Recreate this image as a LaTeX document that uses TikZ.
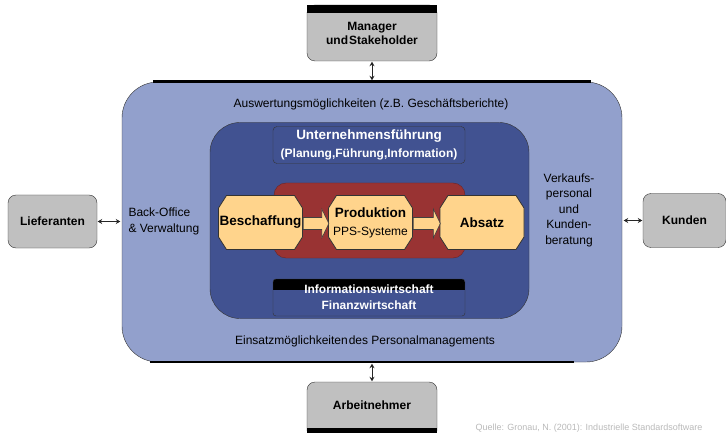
\documentclass[tikz,border=0pt]{standalone}
\usepackage{fontspec}
\setmainfont{Liberation Sans}
\usetikzlibrary{arrows.meta,calc}
\definecolor{aussenblau}{RGB}{146,160,204}
\definecolor{innenblau}{RGB}{65,82,145}
\definecolor{kernrot}{RGB}{153,51,51}
\definecolor{prozessgelb}{RGB}{255,212,140}
\definecolor{partnergrau}{RGB}{192,192,192}
\definecolor{quellgrau}{RGB}{185,185,185}
\begin{document}
\begin{tikzpicture}[x = 1pt, y = -1pt,
    partner/.style = {draw = black!80, fill = partnergrau, rounded corners = 8pt,
        align = center, font = \fontsize{12}{14}\selectfont\bfseries},
    bereich/.style = {draw = black!80, fill = innenblau, rounded corners = 4pt,
        text = white, align = center, font = \fontsize{12}{16}\selectfont\bfseries},
    prozess/.style = {minimum width = 85pt, minimum height = 55pt, inner sep = 0pt,
        align = center, font = \fontsize{13.5}{16}\selectfont\bfseries,
        path picture = {
            \filldraw [draw = black!80, fill = prozessgelb, line width = 0.8pt]
            ($(path picture bounding box.north west) + (8.5pt, -0.5pt)$)
            -- ($(path picture bounding box.north east) + (-8.5pt, -0.5pt)$)
            -- ($(path picture bounding box.north east) + (-0.5pt, -13pt)$)
            -- ($(path picture bounding box.south east) + (-0.5pt, 13pt)$)
            -- ($(path picture bounding box.south east) + (-8.5pt, 0.5pt)$)
            -- ($(path picture bounding box.south west) + (8.5pt, 0.5pt)$)
            -- ($(path picture bounding box.south west) + (0.5pt, 13pt)$)
            -- ($(path picture bounding box.north west) + (0.5pt, -13pt)$)
            -- cycle;
        }},
    fluss/.style = {draw = black!75, fill = prozessgelb, line width = 0.6pt},
    pfeil/.style = {{Stealth[length = 4.5pt, width = 5pt]}-{Stealth[length = 4.5pt, width = 5pt]},
        line width = 0.8pt, black!85, shorten <= 0.5pt, shorten >= 1.5pt},
    ]
    \useasboundingbox (0, 0) rectangle (726, 433);

    \node (aussen) [draw = black!80, fill = aussenblau, rounded corners = 36pt,
        minimum width = 500pt, minimum height = 280pt] at (372, 222) {};
    \draw [line width = 2.5pt] (153, 81.5) -- (591, 81.5);
    \draw [line width = 2.5pt] (150, 362) -- (574, 362);

    \node (auswertung) [font = \fontsize{12}{14}\selectfont] at (371, 104)
        {Auswertungsmöglichkeiten (z.B. Geschäftsberichte)};
    \node (einsatz) [font = \fontsize{12}{14}\selectfont] at (365, 341)
        {Einsatzmöglichkeiten\kern1pt des Personalmanagements};
    \node (backoffice) [anchor = west, align = left, font = \fontsize{12}{16}\selectfont]
        at (125, 221) {Back-Office\\\& Verwaltung};
    \node (verkauf) [align = center, font = \fontsize{12}{15.5}\selectfont] at (569, 210)
        {Verkaufs-\\personal\\und\\Kunden-\\beratung};

    \node (innen) [draw = black!80, fill = innenblau, rounded corners = 30pt,
        minimum width = 319pt, minimum height = 196pt] at (369.5, 220.5) {};
    \node (fuehrung) [bereich, minimum width = 192pt, minimum height = 36pt] at (369, 145)
        {{\fontsize{13.5}{16}\selectfont Unternehmensführung}\\[2pt](Planung,Führung,Information)};
    \node (kern) [draw = kernrot!70!black, fill = kernrot, rounded corners = 12pt,
        minimum width = 191pt, minimum height = 75pt] at (369.5, 220.5) {};
    \node (wirtschaft) [bereich, rounded corners = 3pt, minimum width = 192pt,
        minimum height = 37pt,
        path picture = {\fill [black, sharp corners] (path picture bounding box.north west)
            rectangle ($(path picture bounding box.north east) + (0pt, -11pt)$);}]
        at (369, 297.5) {Informationswirtschaft\\Finanzwirtschaft};

    \node (beschaffung) [prozess] at (260.5, 222.5) {Beschaffung};
    \node (produktion) [prozess] at (370.5, 222.5)
        {Produktion\\[2pt]{\fontsize{12}{14}\selectfont\mdseries PPS-Systeme}};
    \node (absatz) [prozess] at (482, 222.5) {Absatz};

    \filldraw [fluss] ($(beschaffung.east) + (0pt, 5pt)$) -- ($(produktion.west) + (-6pt, 5pt)$)
        -- ++(0pt, 8.5pt) -- ($(produktion.west) + (1pt, -1pt)$)
        -- ($(produktion.west) + (-6pt, -15.5pt)$) -- ++(0pt, 8.5pt)
        -- ($(beschaffung.east) + (0pt, -7pt)$) -- cycle;
    \filldraw [fluss] ($(produktion.east) + (0pt, 5pt)$) -- ($(absatz.west) + (-6pt, 5pt)$)
        -- ++(0pt, 8.5pt) -- ($(absatz.west) + (1pt, -1pt)$)
        -- ($(absatz.west) + (-6pt, -15.5pt)$) -- ++(0pt, 8.5pt)
        -- ($(produktion.east) + (0pt, -7pt)$) -- cycle;

    \node (manager) [partner, minimum width = 130pt, minimum height = 56pt] at (372, 33)
        {Manager\\und\kern1pt Stakeholder};
    \fill (manager.north west) rectangle ($(manager.north east) + (0pt, -8pt)$);
    \node (lieferanten) [partner, minimum width = 89pt, minimum height = 53pt]
        at (52.5, 221.5) {Lieferanten};
    \node (kunden) [partner, minimum width = 83pt, minimum height = 54pt]
        at (684.5, 220.5) {Kunden};
    \node (arbeitnehmer) [partner, minimum width = 130pt, minimum height = 56pt,
        text depth = 10pt] at (372, 410) {Arbeitnehmer};
    \fill (arbeitnehmer.south west) rectangle ($(arbeitnehmer.south east) + (0pt, 10pt)$);

    \draw [pfeil] (manager.south) -- (aussen.north);
    \draw [pfeil] (arbeitnehmer.north) -- (aussen.south);
    \draw [pfeil] (lieferanten.east) -- (lieferanten.east -| aussen.west);
    \draw [pfeil] (kunden.west) -- (kunden.west -| aussen.east);

    \node (quelle) [anchor = base west, text = quellgrau, font = \fontsize{9}{11}\selectfont]
        at (472, 430.5) {Quelle: Gronau, N. (2001): Industrielle Standardsoftware};
\end{tikzpicture}
\end{document}
